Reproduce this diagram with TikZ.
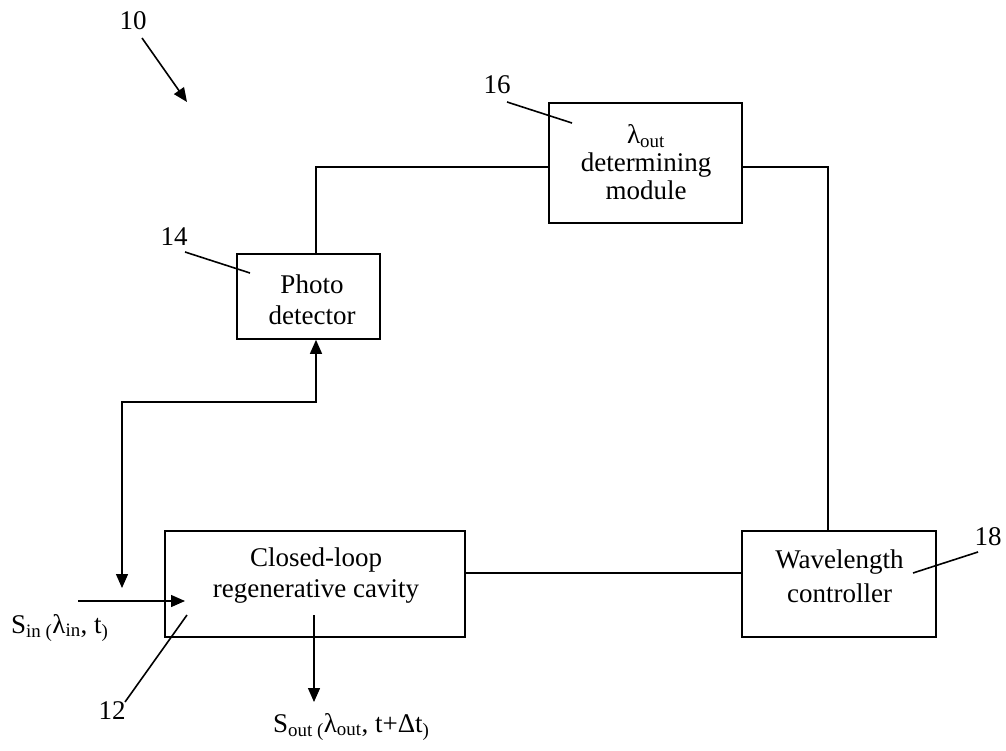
\documentclass[tikz,border=0pt]{standalone}
\usepackage{fontspec}
\setmainfont{Liberation Serif}
\usetikzlibrary{arrows.meta,calc}
\begin{document}
\begin{tikzpicture}[x=1pt,y=-1pt,
  every node/.style={font=\fontsize{27}{31}\selectfont},
  blk/.style={draw,line width=1.7pt,inner sep=0pt},
  txt/.style={align=center,inner sep=0pt},
  wire/.style={line width=1.4pt},
  arr/.style={wire,-{Triangle[length=14pt,width=12pt]}},
  lead/.style={line width=1.6pt}]
\useasboundingbox (0,0) rectangle (1006,751);
% boxes
\node[blk,minimum width=143pt,minimum height=85pt] (pd) at (308.5,296.5) {};
\node[blk,minimum width=193pt,minimum height=120pt] (mod) at (645.5,163) {};
\node[blk,minimum width=194pt,minimum height=106pt] (wl) at (839,584) {};
\node[blk,minimum width=300pt,minimum height=106pt] (cav) at (315,584) {};
% box texts
\node[txt] (pdt) at (312,300) {Photo\\detector};
\node[txt,font=\fontsize{27}{28}\selectfont] (modt) at (646,162) {λ\textsubscript{out}\\determining\\module};
\node[txt,font=\fontsize{27}{34}\selectfont] (wlt) at (839.5,576) {Wavelength\\controller};
\node[txt] (cavt) at (316,576) {Closed-loop\\regenerative cavity};
% connectors
\draw[wire] ([xshift=7.5pt]pd.north) |- ([yshift=-4pt]mod.west);
\draw[wire] ([yshift=-4pt]mod.east) -| ([xshift=-11pt]wl.north);
\draw[wire] ([yshift=11pt]cav.east) -- ([yshift=11pt]wl.west);
\coordinate (fb) at (122,588);
\coordinate (fbc) at (316,402);
\draw[wire,{Triangle[length=14pt,width=12pt]}-{Triangle[length=14pt,width=12pt]}] (fb) |- (fbc) -- ([xshift=7.5pt]pd.south);
\coordinate (sinA) at (78,601);
\coordinate (sinB) at (185,601);
\draw[arr] (sinA) -- (sinB);
\coordinate (soutA) at (314,615);
\coordinate (soutB) at (314,702);
\draw[arr] (soutA) -- (soutB);
% signal labels
\node[anchor=base west,inner sep=0pt] (sin) at (11,633) {S\textsubscript{in (}λ\textsubscript{in}, t\textsubscript{)}};
\node[anchor=base west,inner sep=0pt] (sout) at (273,732) {S\textsubscript{out (}λ\textsubscript{out}, t+Δt\textsubscript{)}};
% reference numerals
\node[inner sep=0pt] (n10) at (133,21) {10};
\coordinate (a10s) at (142,38);
\coordinate (a10e) at (187,102);
\draw[lead,-{Triangle[length=14pt,width=12pt]}] (a10s) -- (a10e);
\node[inner sep=0pt] (n14) at (174,237) {14};
\coordinate (l14) at (250,273);
\draw[lead] (185,252) -- (l14);
\node[inner sep=0pt] (n16) at (497,85) {16};
\coordinate (l16) at (572,123);
\draw[lead] (507,102) -- (l16);
\node[inner sep=0pt] (n18) at (988,537) {18};
\coordinate (l18) at (913,573);
\draw[lead] (978,552) -- (l18);
\node[inner sep=0pt] (n12) at (112,711) {12};
\coordinate (l12) at (187,615);
\draw[lead] (125,702) -- (l12);
\end{tikzpicture}
\end{document}
